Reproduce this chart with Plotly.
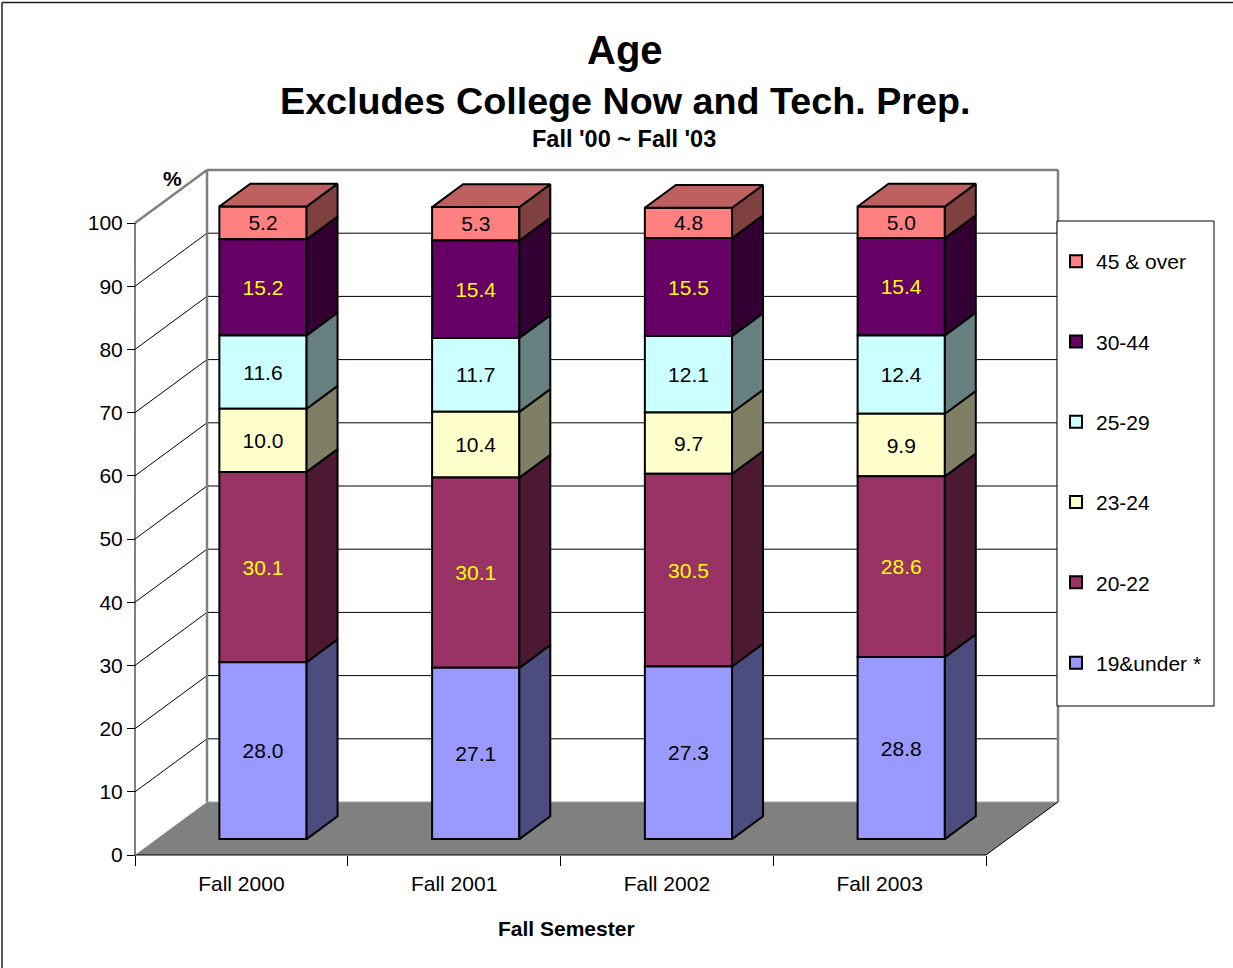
import plotly.graph_objects as go

# ---------------- data ----------------
categories = ["Fall 2000", "Fall 2001", "Fall 2002", "Fall 2003"]
series_names = ["19&under *", "20-22", "23-24", "25-29", "30-44", "45 & over"]
age_19_under = [28.0, 27.1, 27.3, 28.8]
age_20_22 = [30.1, 30.1, 30.5, 28.6]
age_23_24 = [10.0, 10.4, 9.7, 9.9]
age_25_29 = [11.6, 11.7, 12.1, 12.4]
age_30_44 = [15.2, 15.4, 15.5, 15.4]
age_45_over = [5.2, 5.3, 4.8, 5.0]
y_tick_values = [0, 10, 20, 30, 40, 50, 60, 70, 80, 90, 100]

series_values = [age_19_under, age_20_22, age_23_24, age_25_29, age_30_44, age_45_over]

# ---------------- styles ----------------
front_colors = ["#9999FF", "#993366", "#FFFFCC", "#CCFFFF", "#660066", "#FF8080"]
label_colors = ["#000000", "#FFFF00", "#000000", "#000000", "#FFFF00", "#000000"]
FONT = "Arial, Liberation Sans, sans-serif"


def shade(hex_color, factor):
    h = hex_color.lstrip("#")
    r, g, b = (int(h[i:i + 2], 16) for i in (0, 2, 4))
    return "#%02X%02X%02X" % (int(r * factor), int(g * factor), int(b * factor))


# ---------------- geometry (pixel layout -> axis ranges) ----------------
W, H = 1233, 968
PXX = 212.75          # pixels per category unit
PXY = 6.32            # pixels per percent
X0P, Y0P = 135, 855   # pixel of data (0, 0) on the front plane
PL, PR, PT, PB = 124, 1064, 162, 862   # plot area pixel box
PW, PH = PR - PL, PB - PT
XR = [(PL - X0P) / PXX, (PR - X0P) / PXX]
YR = [(Y0P - PB) / PXY, (Y0P - PT) / PXY]
DX = 72 / PXX         # full depth, x units
DY = 53 / PXY         # full depth, y units
F0, F1 = 0.30, 0.73   # bar front / back depth fractions
BW = 0.41             # bar width (category units)
NCAT = len(categories)


def px(xp):
    return (xp - PL) / PW


def py(yp):
    return (PB - yp) / PH


fig = go.Figure()

# cumulative bases
centers = [i + 0.5 + F0 * DX for i in range(NCAT)]
bases = []
cum = [0.0] * NCAT
for vals in series_values:
    bases.append(list(cum))
    cum = [c + v for c, v in zip(cum, vals)]

# front faces as stacked bars (added top series first so the legend lists it first)
for k in reversed(range(len(series_names))):
    name, vals = series_names[k], series_values[k]
    fig.add_trace(go.Bar(
        x=centers, y=vals, base=[b + F0 * DY for b in bases[k]], width=BW, name=name,
        legendgroup=name,
        marker=dict(color=front_colors[k], line=dict(color="black", width=2)),
        text=[f"{v:.1f}" for v in vals], textposition="inside",
        insidetextanchor="middle", textangle=0,
        textfont=dict(family=FONT, size=21, color=label_colors[k]),
        hoverinfo="skip",
    ))

# side faces and top faces
bdx = (F1 - F0) * DX
bdy = (F1 - F0) * DY
for k, (name, vals) in enumerate(zip(series_names, series_values)):
    xs, ys = [], []
    for i in range(NCAT):
        xr = centers[i] + BW / 2
        y0 = bases[k][i] + F0 * DY
        y1 = y0 + vals[i]
        xs += [xr, xr + bdx, xr + bdx, xr, xr, None]
        ys += [y0, y0 + bdy, y1 + bdy, y1, y0, None]
    fig.add_trace(go.Scatter(
        x=xs, y=ys, mode="lines", fill="toself", fillcolor=shade(front_colors[k], 0.5),
        line=dict(color="black", width=2), showlegend=False, legendgroup=name,
        hoverinfo="skip",
    ))
xs, ys = [], []
for i in range(NCAT):
    xl = centers[i] - BW / 2
    xr = centers[i] + BW / 2
    yt = cum[i] + F0 * DY
    xs += [xl, xl + bdx, xr + bdx, xr, xl, None]
    ys += [yt, yt + bdy, yt + bdy, yt, yt, None]
fig.add_trace(go.Scatter(
    x=xs, y=ys, mode="lines", fill="toself", fillcolor=shade(front_colors[-1], 0.75),
    line=dict(color="black", width=2), showlegend=False, legendgroup=series_names[-1],
    hoverinfo="skip",
))

# ---------------- walls, floor, gridlines ----------------
shapes = []
shapes.append(dict(type="path", xref="x", yref="y", layer="below",
                   path=f"M 0,0 L {NCAT},0 L {NCAT + DX},{DY} L {DX},{DY} Z",
                   fillcolor="#808080", line=dict(width=0)))
for v in y_tick_values[1:-1]:
    shapes.append(dict(type="line", xref="x", yref="y", layer="below",
                       x0=DX, x1=NCAT + DX, y0=v + DY, y1=v + DY,
                       line=dict(color="black", width=1)))
    shapes.append(dict(type="line", xref="x", yref="y", layer="below",
                       x0=0, x1=DX, y0=v, y1=v + DY,
                       line=dict(color="black", width=1)))
gray = "#808080"
ytop = y_tick_values[-1]
for (x0, y0, x1, y1) in [(0, ytop, DX, ytop + DY), (DX, ytop + DY, NCAT + DX, ytop + DY),
                         (DX, DY, DX, ytop + DY), (NCAT + DX, DY, NCAT + DX, ytop + DY)]:
    shapes.append(dict(type="line", xref="x", yref="y", layer="below",
                       x0=x0, y0=y0, x1=x1, y1=y1, line=dict(color=gray, width=2.5)))
shapes.append(dict(type="line", xref="x", yref="y", layer="below",
                   x0=DX, y0=DY, x1=NCAT + DX, y1=DY, line=dict(color="#A0A0A0", width=1)))
for (x0, y0, x1, y1) in [(0, 0, 0, ytop), (0, 0, NCAT, 0), (NCAT, 0, NCAT + DX, DY)]:
    shapes.append(dict(type="line", xref="x", yref="y", layer="below",
                       x0=x0, y0=y0, x1=x1, y1=y1, line=dict(color="black", width=1)))
# legend box
shapes.append(dict(type="rect", xref="paper", yref="paper", layer="above",
                   x0=px(1057), x1=px(1214), y0=py(706), y1=py(221),
                   fillcolor="white", line=dict(color="black", width=1)))
# outer chart border (top and left edges)
shapes.append(dict(type="line", xref="paper", yref="paper", layer="above",
                   x0=px(2), x1=px(1233), y0=py(2.5), y1=py(2.5),
                   line=dict(color="#202020", width=1.5)))
shapes.append(dict(type="line", xref="paper", yref="paper", layer="above",
                   x0=px(2), x1=px(2), y0=py(2.5), y1=py(968),
                   line=dict(color="#202020", width=1.5)))

annotations = [
    dict(text="<b>Age</b>", x=px(625), y=py(50), font=dict(size=40)),
    dict(text="<b>Excludes College Now and Tech. Prep.</b>", x=px(625), y=py(101), font=dict(size=37.7)),
    dict(text="<b>Fall '00 ~ Fall '03</b>", x=px(624), y=py(139), font=dict(size=23.5)),
    dict(text="<b>%</b>", x=px(172), y=py(178), font=dict(size=21)),
    dict(text="<b>Fall Semester</b>", x=px(566), y=py(928), font=dict(size=21)),
]
for a in annotations:
    a.update(xref="paper", yref="paper", xanchor="center", yanchor="middle", showarrow=False)
    a["font"].update(family=FONT, color="black")

fig.update_layout(
    width=W, height=H,
    margin=dict(l=PL, r=W - PR, t=PT, b=H - PB, autoexpand=False),
    paper_bgcolor="white", plot_bgcolor="white",
    font=dict(family=FONT, size=21, color="black"),
    barmode="overlay", showlegend=True,
    uniformtext=dict(minsize=21, mode="show"),
    shapes=shapes, annotations=annotations,
    legend=dict(x=px(1056), y=py(241), xanchor="left", yanchor="top",
                traceorder="grouped", tracegroupgap=50,
                bgcolor="rgba(0,0,0,0)", borderwidth=0,
                font=dict(family=FONT, size=21, color="black")),
    xaxis=dict(range=XR, anchor="free", position=(PB - Y0P) / PH,
               tickvals=[i + 0.5 for i in range(NCAT)], ticktext=categories,
               ticks="outside", ticklen=10, tickcolor="rgba(0,0,0,0)",
               minor=dict(tickvals=list(range(NCAT + 1)), ticks="outside", ticklen=10,
                          tickcolor="black", tickwidth=1, showgrid=False),
               showgrid=False, zeroline=False, showline=False, automargin=False,
               tickfont=dict(family=FONT, size=21, color="black")),
    yaxis=dict(range=YR, anchor="free", position=(X0P - PL) / PW,
               tickvals=y_tick_values, ticks="outside", ticklen=8, tickcolor="black",
               showgrid=False, zeroline=False, showline=False, automargin=False,
               tickfont=dict(family=FONT, size=21, color="black")),
)

fig.write_html("out.html", config={"displayModeBar": False},
               post_script="document.body.style.margin='0';document.body.style.overflow='hidden';")
